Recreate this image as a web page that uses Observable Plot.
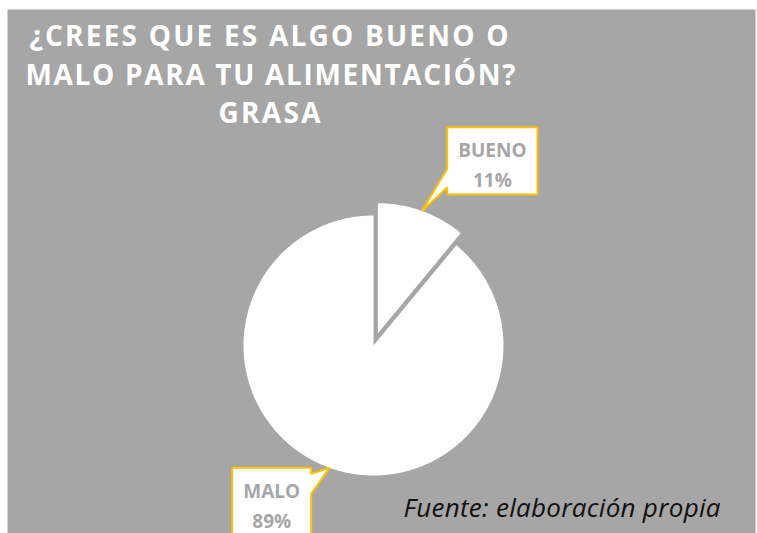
<!DOCTYPE html>
<html><head><meta charset="utf-8">
<script src="https://cdn.jsdelivr.net/npm/d3@7"></script>
<script src="https://cdn.jsdelivr.net/npm/@observablehq/plot@0.6"></script>
<style>
html,body{margin:0;padding:0;background:#fff;}
svg{display:block;}
</style>
</head><body><div id="chart"></div>
<script>
// ---- data ----
const categories = ["BUENO", "MALO"];
const values = [11, 89];
const percentLabels = ["11%", "89%"];
const titleLines = ["¿CREES QUE ES ALGO BUENO O", "MALO PARA TU ALIMENTACIÓN?", "GRASA"];
const sourceText = "Fuente: elaboración propia";

// ---- layout (positions / sizes / styles) ----
const W = 757, H = 533;
const gray = "#a6a6a6", gold = "#ffc000";
const pie = {cx: 373, cy: 345, r: 130};
const explode = {BUENO: 13, MALO: 0};
const titleX = [29, 25, 218], titleY = [37, 76, 114], titleW = [479, 490, 102];
const sourceW = 317;
const callout = {
  BUENO: {x: 446.7, y: 126.7, w: 90.3, h: 67.3, side: "left", b1: 168.3, b2: 187},
  MALO:  {x: 231.7, y: 467.3, w: 79, h: 90, side: "right", b1: 473.3, b2: 493.3}
};
const labelY = {BUENO: 162, MALO: 503};

// slices from data
const arcs = d3.pie().sort(null).value(d => d)(values);
const slicePts = [], tips = [];
arcs.forEach((a, i) => {
  const cat = categories[i];
  const mid = (a.startAngle + a.endAngle) / 2;
  const off = explode[cat];
  const cx = pie.cx + off * Math.sin(mid), cy = pie.cy - off * Math.cos(mid);
  slicePts.push({cat, x: cx, y: cy});
  const n = Math.max(2, Math.ceil((a.endAngle - a.startAngle) / (Math.PI / 360)));
  for (let k = 0; k <= n; k++) {
    const t = a.startAngle + (a.endAngle - a.startAngle) * k / n;
    slicePts.push({cat, x: cx + pie.r * Math.sin(t), y: cy - pie.r * Math.cos(t)});
  }
  tips.push({cat, x: cx + pie.r * Math.sin(mid), y: cy - pie.r * Math.cos(mid)});
});

// callouts
const calloutPts = [];
tips.forEach(t => {
  const c = callout[t.cat];
  const pts = c.side === "left"
    ? [[c.x, c.y], [c.x + c.w, c.y], [c.x + c.w, c.y + c.h], [c.x, c.y + c.h], [c.x, c.b2], [t.x, t.y], [c.x, c.b1]]
    : [[c.x, c.y], [c.x + c.w, c.y], [c.x + c.w, c.b1], [t.x, t.y], [c.x + c.w, c.b2], [c.x + c.w, c.y + c.h], [c.x, c.y + c.h]];
  pts.forEach(([x, y]) => calloutPts.push({cat: t.cat, x, y}));
});
const labels = categories.map((cat, i) => ({
  text: cat + "\n" + percentLabels[i],
  x: callout[cat].x + callout[cat].w / 2,
  y: labelY[cat]
}));
const titles = titleLines.map((t, i) => ({text: t, x: titleX[i], y: titleY[i]}));

const plot = Plot.plot({
  width: W, height: H, margin: 0,
  x: {type: "identity", axis: null},
  y: {type: "identity", axis: null},
  style: {fontFamily: "'Open Sans', sans-serif", background: "white", overflow: "hidden"},
  marks: [
    Plot.frame({fill: gray, stroke: null, insetLeft: 7, insetTop: 9, insetRight: 2}),
    Plot.line(slicePts, {x: "x", y: "y", z: "cat", fill: "white", stroke: "none", curve: "linear-closed"}),
    Plot.line(calloutPts, {x: "x", y: "y", z: "cat", fill: "white", stroke: gold, strokeWidth: 2,
      strokeLinejoin: "miter", curve: "linear-closed"}),
    Plot.text(labels, {x: "x", y: "y", text: "text", fill: gray, fontSize: 19, fontWeight: "bold", lineHeight: 1.55}),
    Plot.text(titles, {x: "x", y: "y", text: "text", textAnchor: "start", fill: "white",
      fontSize: 28, fontWeight: "bold"}),
    Plot.text([sourceText], {x: 403, y: 508, text: d => d, textAnchor: "start", fill: "#111",
      fontSize: 26, fontStyle: "italic"})
  ]
});
d3.select(plot).selectAll("text").each(function() {
  const t = this.textContent;
  const i = titleLines.indexOf(t);
  if (i >= 0) this.setAttribute("textLength", titleW[i]);
  else if (t === sourceText) this.setAttribute("textLength", sourceW);
  else return;
  this.setAttribute("lengthAdjust", "spacing");
});
document.getElementById("chart").appendChild(plot);
</script>
</body></html>
